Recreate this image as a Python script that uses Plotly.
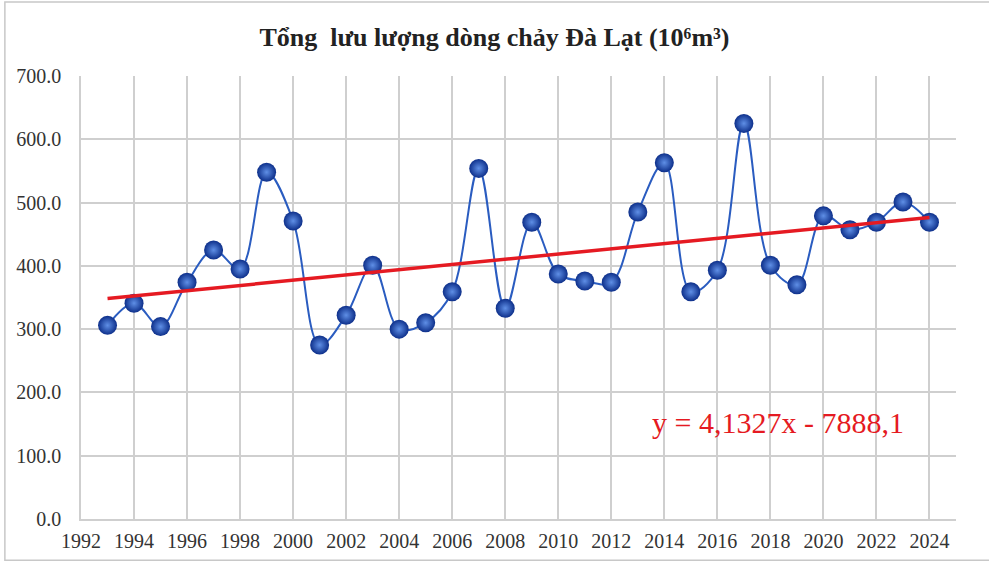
import plotly.graph_objects as go

years = list(range(1993, 2025))
flow = [306, 341, 304, 374, 425, 395, 548, 471, 275, 322, 401, 300, 310, 359,
        554, 333, 469, 387, 376, 374, 485, 563, 359, 393, 625, 401, 370, 479,
        457, 469, 501, 469]
trend_slope = 4.1327
trend_intercept = -7888.1
trend = [trend_slope * y + trend_intercept for y in years]

title_text = "Tổng  lưu lượng dòng chảy Đà Lạt (10⁶m³)"
eq_text = "y = 4,1327x - 7888,1"

fig = go.Figure()
fig.add_trace(go.Scatter(
    x=years, y=flow, mode="lines+markers",
    line=dict(color="#2a5cc0", width=2, shape="spline", smoothing=1),
    marker=dict(size=19, color="#0d2f8a",
                gradient=dict(type="radial", color="#5f8fe6"),
                line=dict(width=0)),
    showlegend=False,
))
fig.add_trace(go.Scatter(
    x=years, y=trend, mode="lines",
    line=dict(color="#e51a22", width=3.5),
    showlegend=False,
))

fig.update_layout(
    width=989, height=564,
    margin=dict(l=81, r=33, t=76, b=45),
    paper_bgcolor="white", plot_bgcolor="white",
    font=dict(family="Liberation Serif", size=20, color="#333333"),
    title=dict(text=title_text, x=0.5, xanchor="center", y=0.935, yanchor="middle",
               font=dict(family="Liberation Serif", size=26, color="#222222", weight="bold")),
    xaxis=dict(range=[1992, 2025], tick0=1992, dtick=2, showgrid=True,
               gridcolor="#cfcfcf", gridwidth=1.5, zeroline=False,
               showline=True, linecolor="#cfcfcf", linewidth=1.5,
               ticks="", ticklabelstandoff=3),
    yaxis=dict(range=[0, 700], dtick=100, tickformat=".1f", showgrid=True,
               gridcolor="#cfcfcf", gridwidth=1.5, zeroline=False,
               showline=True, linecolor="#cfcfcf", linewidth=1.5,
               ticks="", ticklabelstandoff=14),
    shapes=[dict(type="rect", xref="paper", yref="paper",
                 x0=-0.087, x1=1.2, y0=-0.093, y1=1.167,
                 line=dict(color="#c8c8c8", width=1.5), layer="below")],
    annotations=[dict(text=eq_text, xref="paper", yref="paper",
                      x=0.797, y=0.217, xanchor="center", yanchor="middle",
                      showarrow=False,
                      font=dict(family="Liberation Serif", size=30, color="#e51a22"))],
)

fig.write_html("out.html", config={"displayModeBar": False},
               post_script="document.body.style.margin='0px';")
